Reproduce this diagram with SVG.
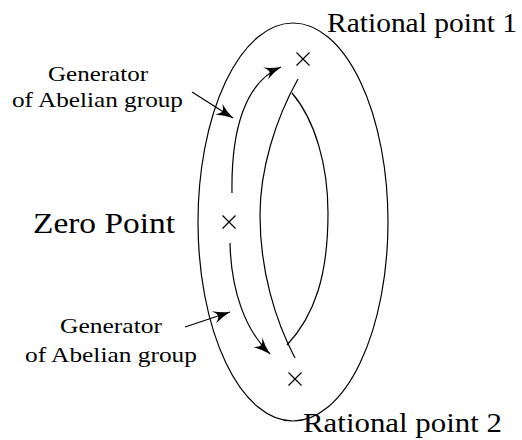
<svg xmlns="http://www.w3.org/2000/svg" width="522" height="440" viewBox="0 0 522 440">
<style>
.ln{fill:none;stroke:#000;stroke-width:1.2}
.t{font-family:"Liberation Serif","Times New Roman",serif;fill:#000}
</style>
<defs>
<marker id="ah" viewBox="-18 -7 19 14" markerWidth="19" markerHeight="14" refX="0" refY="0" markerUnits="userSpaceOnUse" orient="auto">
<path d="M0,0 Q-9,-2.2 -17,-6.5 Q-12.5,-2.5 -12.5,0 Q-12.5,2.5 -17,6.5 Q-9,2.2 0,0 Z" fill="#000"/>
</marker>
</defs>
<g id="torus">
<ellipse class="ln" cx="293" cy="222" rx="95" ry="199"/>
<path class="ln" d="M298,79 C275,120 260,170 260,215 C260,270 275,320 295,358"/>
<path class="ln" d="M292,93 C315,120 328,165 328,213 C328,275 315,315 287,345"/>
</g>
<g id="points" class="ln">
<path d="M222.5,215.5 L235.5,228.5 M235.5,215.5 L222.5,228.5"/>
<path d="M296.5,52.5 L309.5,65.5 M309.5,52.5 L296.5,65.5"/>
<path d="M288.5,372.5 L301.5,385.5 M301.5,372.5 L288.5,385.5"/>
</g>
<g id="connectors">
<path class="ln" d="M232,193 C231,130 245,82 281,67" marker-end="url(#ah)"/>
<path class="ln" d="M230,243 C231,290 245,330 270,354" marker-end="url(#ah)"/>
<path class="ln" d="M192,92 L233,118" marker-end="url(#ah)"/>
<path class="ln" d="M185,327 L230,312" marker-end="url(#ah)"/>
</g>
<g id="labels">
<text class="t" x="327" y="32" font-size="27" textLength="190" lengthAdjust="spacingAndGlyphs">Rational point 1</text>
<text class="t" x="303" y="432" font-size="28" textLength="199" lengthAdjust="spacingAndGlyphs">Rational point 2</text>
<text class="t" x="33" y="233" font-size="30" textLength="142" lengthAdjust="spacingAndGlyphs">Zero Point</text>
<text class="t" x="48" y="81" font-size="22" textLength="100" lengthAdjust="spacingAndGlyphs">Generator</text>
<text class="t" x="12" y="107" font-size="22" textLength="171" lengthAdjust="spacingAndGlyphs">of Abelian group</text>
<text class="t" x="60" y="333" font-size="22" textLength="102" lengthAdjust="spacingAndGlyphs">Generator</text>
<text class="t" x="25" y="362" font-size="22" textLength="172" lengthAdjust="spacingAndGlyphs">of Abelian group</text>
</g>
</svg>
